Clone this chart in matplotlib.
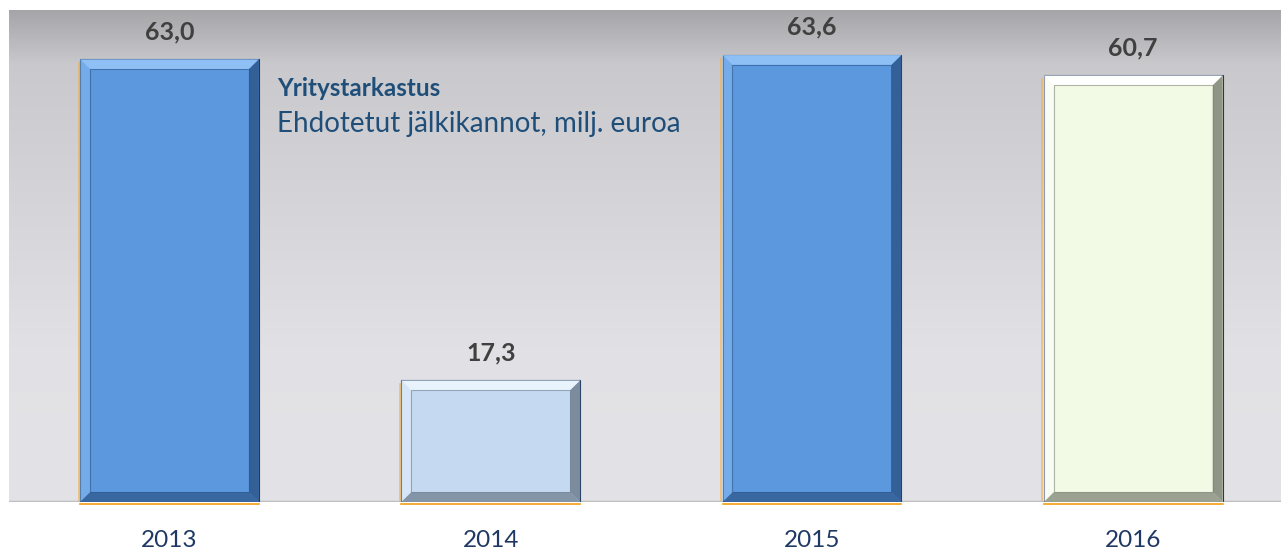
import numpy as np
import matplotlib.pyplot as plt
from matplotlib.patches import Polygon

years = ["2013", "2014", "2015", "2016"]
values = [63.0, 17.3, 63.6, 60.7]
labels = ["63,0", "17,3", "63,6", "60,7"]
face_colors = ["#5B98DE", "#C5DAF1", "#5B98DE", "#F2F9E5"]
light_colors = ["#8EC0F5", "#E8F3FD", "#8EC0F5", "#FFFFFF"]
dark_colors = ["#2E578C", "#6F7E90", "#2E578C", "#7F8576"]

plt.rcParams['font.family'] = ['Lato', 'DejaVu Sans']

fig = plt.figure(figsize=(12.81, 5.49), dpi=100)
ax = fig.add_axes([0.0069, 0.0856, 0.9931, 0.896])
x = np.arange(len(years))

# gradient background (dark at top, light below)
grad = np.linspace(0, 1, 256)
shade = np.interp(grad, [0, 0.11, 0.7, 1], [0.65, 0.79, 0.885, 0.89])
cols = np.stack([shade, shade, shade + 0.015], axis=-1).reshape(-1, 1, 3)
ax.imshow(np.clip(cols, 0, 1), extent=(-0.5, 3.46, 0, 70), aspect='auto', zorder=0)
ax.set_xlim(-0.5, 3.46)
ax.set_ylim(0, 70)

w = 0.557
bars = ax.bar(x, values, width=w, color=face_colors, edgecolor="#1F3A5F",
              linewidth=0.8, zorder=2)

# faint orange glow on left / bottom
for xi, v in zip(x, values):
    ax.plot([xi - w / 2 - 0.004] * 2, [0, v - 0.5], color="#F5B041", lw=1.2,
            alpha=0.7, zorder=1)
    ax.plot([xi - w / 2, xi + w / 2], [-0.35, -0.35], color="#F39C12", lw=1.2,
            zorder=1, clip_on=False)

# bevel
dx, dy = 0.031, 1.4
for xi, v, lc, dc in zip(x, values, light_colors, dark_colors):
    l, r = xi - w / 2, xi + w / 2
    ax.add_patch(Polygon([[l, v], [r, v], [r - dx, v - dy], [l + dx, v - dy]],
                         closed=True, color=lc, lw=0, zorder=3))
    ax.add_patch(Polygon([[r, v], [r, 0], [r - dx, dy], [r - dx, v - dy]],
                         closed=True, color=dc, lw=0, zorder=3, alpha=0.85))
    ax.add_patch(Polygon([[l, 0], [r, 0], [r - dx, dy], [l + dx, dy]],
                         closed=True, color=dc, lw=0, zorder=3, alpha=0.75))
    ax.add_patch(Polygon([[l, 0], [l, v], [l + dx, v - dy], [l + dx, dy]],
                         closed=True, color=lc, lw=0, zorder=3, alpha=0.5))
    ax.add_patch(Polygon([[l + dx, dy], [r - dx, dy], [r - dx, v - dy], [l + dx, v - dy]],
                         closed=True, fill=False, ec=dc, lw=0.8, zorder=4, alpha=0.6))

for xi, v, t in zip(x, values, labels):
    ax.annotate(t, (xi, v), xytext=(0, 20), textcoords="offset points",
                ha="center", va="center", fontsize=18, fontweight="bold",
                color="#404040", zorder=5)

ax.text(0.335, 58.8, "Yritystarkastus", fontsize=17.5, fontweight="bold",
        color="#1F4E79", ha="left", va="center", zorder=5)
ax.text(0.335, 53.8, "Ehdotetut jälkikannot, milj. euroa", fontsize=20,
        color="#1F4E79", ha="left", va="center", zorder=5)

ax.axhline(0, color="#BFBFBF", lw=2.5, zorder=1.5)
ax.set_xticks(x)
ax.set_xticklabels(years, fontsize=17.5, color="#1F3864")
ax.tick_params(axis="x", length=0, pad=20)
ax.set_yticks([])
for s in ax.spines.values():
    s.set_visible(False)

fig.savefig("out.png", dpi=100, facecolor="white")
